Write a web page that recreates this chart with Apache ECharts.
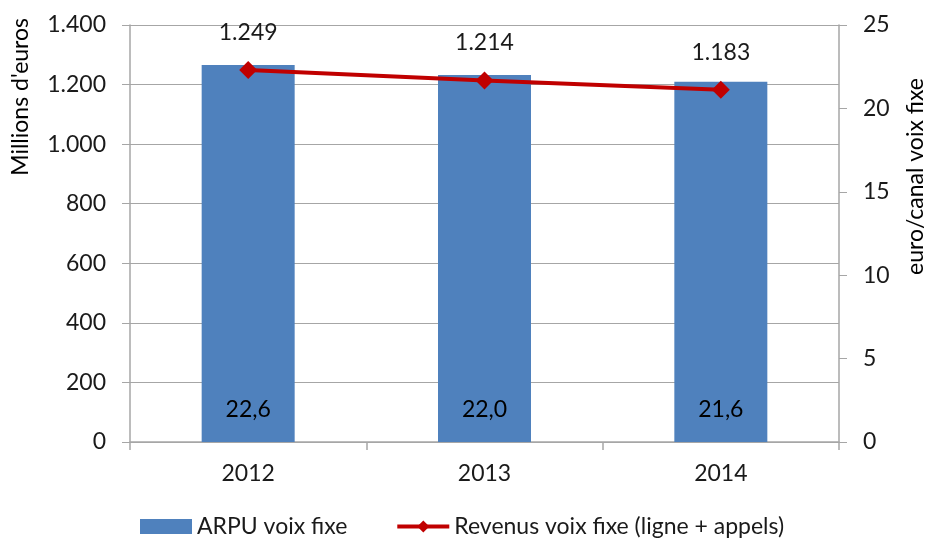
<!DOCTYPE html>
<html>
<head>
<meta charset="utf-8">
<script src="https://cdn.jsdelivr.net/npm/echarts@6/dist/echarts.min.js"></script>
<style>
  html, body { margin: 0; padding: 0; background: #fff; }
  #chart { width: 929px; height: 544px; }
</style>
</head>
<body>
<div id="chart"></div>
<script>
// data
const years = ["2012", "2013", "2014"];
const arpu = [22.6, 22.0, 21.6];          // euro/canal voix fixe (right axis)
const revenus = [1249, 1214, 1183];       // millions d'euros (left axis)

const FONT = "Lato";
const FS = 23;
const txt = "#1a1a1a";

const chart = echarts.init(document.getElementById("chart"));

const fmtThousands = (v) => String(v).replace(/\B(?=(\d{3})+(?!\d))/g, ".");

chart.setOption({
  animation: false,
  textStyle: { fontFamily: FONT },
  grid: { left: 130, right: 90, top: 25, bottom: 102 },
  legend: {
    bottom: 1,
    left: 135,
    itemGap: 48,
    itemWidth: 52,
    itemHeight: 15,
    textStyle: { fontSize: FS, color: txt, fontFamily: FONT },
    data: [
      { name: "ARPU voix fixe", icon: "rect" },
      { name: "Revenus voix fixe (ligne + appels)", lineStyle: { width: 4 } }
    ]
  },
  xAxis: {
    type: "category",
    data: years,
    axisLine: { lineStyle: { color: "#a6a6a6", width: 1.5 } },
    axisTick: { show: true, length: 8, lineStyle: { color: "#a6a6a6", width: 1.5 } },
    axisLabel: { fontSize: FS, color: txt, margin: 20 }
  },
  yAxis: [
    {
      type: "value",
      min: 0, max: 1400, interval: 200,
      axisLine: { show: true, lineStyle: { color: "#a6a6a6", width: 1.5 } },
      axisTick: { show: true, length: 8, lineStyle: { color: "#a6a6a6" } },
      splitLine: { lineStyle: { color: "#a6a6a6", width: 1.2 } },
      axisLabel: { fontSize: FS, color: txt, margin: 24, formatter: fmtThousands }
    },
    {
      type: "value",
      min: 0, max: 25, interval: 5,
      position: "right",
      axisLine: { show: true, lineStyle: { color: "#a6a6a6", width: 1.5 } },
      axisTick: { show: true, length: 8, lineStyle: { color: "#a6a6a6" } },
      splitLine: { show: false },
      axisLabel: { fontSize: FS, color: txt, margin: 24 }
    }
  ],
  graphic: [
    {
      type: "text", left: 9, top: 18, rotation: Math.PI / 2,
      style: { text: "Millions d'euros", fontSize: FS, fill: "#000", fontFamily: FONT }
    },
    {
      type: "text", right: 2, top: 78, rotation: Math.PI / 2,
      style: { text: "euro/canal voix fixe", fontSize: FS, fill: "#000", fontFamily: FONT }
    }
  ],
  series: [
    {
      name: "ARPU voix fixe",
      type: "bar",
      yAxisIndex: 1,
      data: arpu,
      barWidth: 93,
      itemStyle: { color: "#4f81bd" },
      label: {
        show: true,
        position: "insideBottom",
        distance: 21,
        fontSize: FS,
        color: "#000",
        formatter: (p) => p.value.toFixed(1).replace(".", ",")
      }
    },
    {
      name: "Revenus voix fixe (ligne + appels)",
      type: "line",
      yAxisIndex: 0,
      data: revenus,
      symbol: "diamond",
      symbolSize: 18,
      lineStyle: { color: "#c00000", width: 4 },
      itemStyle: { color: "#c00000" },
      label: {
        show: true,
        position: "top",
        distance: 17,
        fontSize: FS,
        color: txt,
        formatter: (p) => fmtThousands(p.value)
      }
    }
  ]
});
</script>
</body>
</html>
